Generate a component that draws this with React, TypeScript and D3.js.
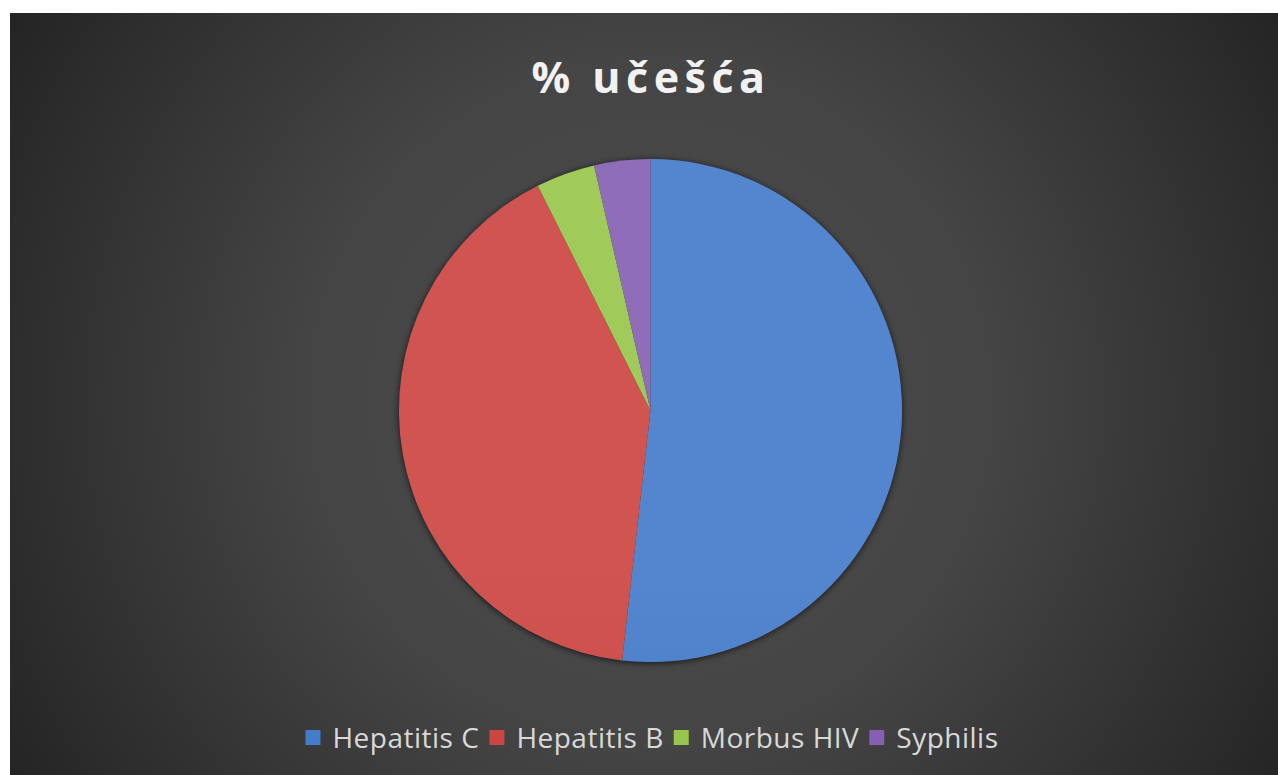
import { useRef, useEffect } from 'react';
import * as d3 from 'd3';

const categories = ['Hepatitis C', 'Hepatitis B', 'Morbus HIV', 'Syphilis'];
const shares = [51.8, 40.8, 3.8, 3.6];
const colors = ['#447bcb', '#cc4641', '#98c64c', '#8560b2'];
const title = '% učešća';

const W = 1278;
const H = 775;

const App = () => {
  const svgRef = useRef<SVGSVGElement>(null);

  useEffect(() => {
    const svg = d3.select(svgRef.current);
    svg.selectAll('*').remove();

    const defs = svg.append('defs');
    const bg = defs
      .append('radialGradient')
      .attr('id', 'bg')
      .attr('gradientUnits', 'userSpaceOnUse')
      .attr('cx', 650)
      .attr('cy', 400)
      .attr('r', 760);
    bg.append('stop').attr('offset', '0%').attr('stop-color', '#4b4b4b');
    bg.append('stop').attr('offset', '45%').attr('stop-color', '#454545');
    bg.append('stop').attr('offset', '100%').attr('stop-color', '#232323');

    const shadow = defs.append('filter').attr('id', 'shadow').attr('x', '-10%').attr('y', '-10%').attr('width', '120%').attr('height', '120%');
    shadow
      .append('feDropShadow')
      .attr('dx', 0)
      .attr('dy', 1)
      .attr('stdDeviation', 3)
      .attr('flood-color', '#000')
      .attr('flood-opacity', 0.7);

    const cx = 650.5;
    const cy = 410.5;
    const r = 251.5;

    colors.forEach((c, i) => {
      const g = defs
        .append('linearGradient')
        .attr('id', 'slice' + i)
        .attr('gradientUnits', 'userSpaceOnUse')
        .attr('x1', 0)
        .attr('y1', cy - r)
        .attr('x2', 0)
        .attr('y2', cy + r);
      g.append('stop').attr('offset', '0%').attr('stop-color', d3.interpolateRgb(c, '#ffffff')(0.08));
      g.append('stop').attr('offset', '100%').attr('stop-color', d3.interpolateRgb(c, '#000000')(0.06));
    });

    svg
      .append('rect')
      .attr('x', 10)
      .attr('y', 13)
      .attr('width', W - 10)
      .attr('height', H - 13)
      .attr('fill', 'url(#bg)');

    svg
      .append('text')
      .attr('x', 651)
      .attr('y', 93)
      .attr('text-anchor', 'middle')
      .attr('fill', '#f2f2f2')
      .style('font-family', '"Open Sans", sans-serif')
      .style('font-weight', 700)
      .style('font-size', '43px')
      .style('letter-spacing', '5.5px')
      .text(title);

    const pie = d3.pie<number>().sort(null).value((d) => d);
    const arc = d3.arc<d3.PieArcDatum<number>>().innerRadius(0).outerRadius(r);

    const pg = svg.append('g').attr('transform', `translate(${cx},${cy})`);
    pg.append('circle').attr('r', r).attr('fill', '#333').attr('filter', 'url(#shadow)');
    pg.selectAll('path')
      .data(pie(shares))
      .join('path')
      .attr('d', arc)
      .attr('fill', (d, i) => `url(#slice${i})`);

    // legend
    const lg = svg.append('g');
    const fontSize = 28;
    const box = 15;
    const items = categories.map((name, i) => {
      const t = lg
        .append('text')
        .attr('y', 748)
        .attr('fill', '#d9d9d9')
        .style('font-family', '"Open Sans", sans-serif')
        .style('font-size', fontSize + 'px')
        .style('letter-spacing', '0.5px')
        .text(name);
      const w = (t.node() as SVGTextElement).getComputedTextLength();
      return { t, w, i };
    });
    const gapBox = 12;
    const gapItem = 10;
    const total = items.reduce((s, it) => s + box + gapBox + it.w, 0) + gapItem * (items.length - 1);
    let x = 652 - total / 2;
    items.forEach((it) => {
      lg.append('rect')
        .attr('x', x)
        .attr('y', 730)
        .attr('width', box)
        .attr('height', box)
        .attr('fill', colors[it.i]);
      it.t.attr('x', x + box + gapBox);
      x += box + gapBox + it.w + gapItem;
    });
  }, []);

  return <svg ref={svgRef} width={W} height={H} style={{ position: 'absolute', left: 0, top: 0, display: 'block' }} />;
};

export default App;
